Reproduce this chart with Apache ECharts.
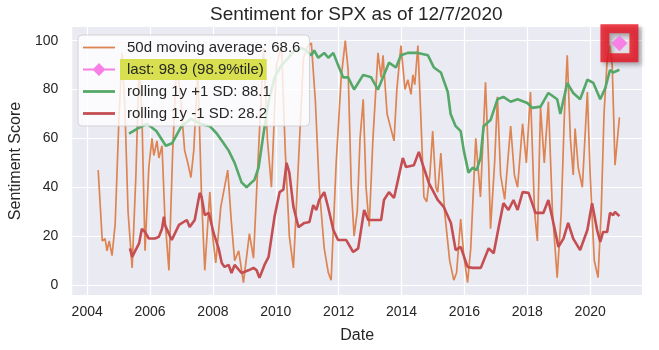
<!DOCTYPE html>
<html>
<head>
<meta charset="utf-8">
<script src="https://cdn.jsdelivr.net/npm/echarts@6/dist/echarts.min.js"></script>
<style>
  html, body { margin: 0; padding: 0; background: #fff; }
  #chart { width: 659px; height: 350px; }
</style>
</head>
<body>
<div id="chart"></div>
<script>
// 50d moving average (decimal years / score)
const maDates = [2004.35, 2004.48, 2004.57, 2004.63, 2004.70, 2004.79, 2004.89, 2005.01, 2005.11, 2005.20,
  2005.30, 2005.43, 2005.55, 2005.65, 2005.74, 2005.84, 2005.96, 2006.06, 2006.12, 2006.22,
  2006.28, 2006.38, 2006.47, 2006.60, 2006.72, 2006.85, 2006.98, 2007.10, 2007.20, 2007.30,
  2007.39, 2007.52, 2007.64, 2007.74, 2007.90, 2007.99, 2008.09, 2008.25, 2008.47, 2008.59,
  2008.69, 2008.82, 2008.97, 2009.16, 2009.29, 2009.45, 2009.61, 2009.73, 2009.86, 2010.02,
  2010.18, 2010.30, 2010.43, 2010.56, 2010.72, 2010.88, 2011.03, 2011.13, 2011.26, 2011.38,
  2011.54, 2011.67, 2011.76, 2011.92, 2012.08, 2012.21, 2012.30, 2012.40, 2012.49, 2012.59,
  2012.68, 2012.78, 2012.87, 2012.97, 2013.09, 2013.25, 2013.35, 2013.41, 2013.54, 2013.76,
  2013.85, 2013.98, 2014.11, 2014.20, 2014.30, 2014.36, 2014.42, 2014.52, 2014.61, 2014.71,
  2014.80, 2014.90, 2014.99, 2015.09, 2015.15, 2015.25, 2015.37, 2015.53, 2015.66, 2015.75,
  2015.88, 2015.98, 2016.10, 2016.20, 2016.36, 2016.51, 2016.67, 2016.77, 2016.83, 2016.96,
  2017.05, 2017.15, 2017.28, 2017.47, 2017.59, 2017.69, 2017.85, 2017.97, 2018.10, 2018.23,
  2018.32, 2018.42, 2018.54, 2018.67, 2018.80, 2018.95, 2019.08, 2019.18, 2019.27, 2019.37,
  2019.46, 2019.52, 2019.62, 2019.75, 2019.91, 2020.00, 2020.13, 2020.25, 2020.35, 2020.44,
  2020.54, 2020.63, 2020.70, 2020.79, 2020.93];
const maValues = [47, 18, 19, 14, 18, 12, 25, 68, 95, 72,
  30, 7, 45, 90, 70, 14, 48, 60, 53, 59,
  52, 57, 28, 6, 55, 92, 75, 55, 50, 44,
  55, 88, 35, 6, 38, 20, 9, 32, 47, 25,
  10, 14, 1, 21, 11, 55, 97, 60, 40, 90,
  98, 55, 20, 7, 50, 93, 98, 99, 75, 40,
  15, 5, 2, 50, 85, 100, 88, 40, 20, 30,
  60, 76, 40, 24, 60, 95, 85, 94, 70, 59,
  80, 98, 80, 84, 78, 86, 82, 98, 70, 36,
  34, 45, 63, 40, 38, 54, 30, 10, 2, 5,
  27, 12, 1, 15, 60, 36, 83, 50, 23, 50,
  77, 45, 35, 65, 45, 40, 66, 50, 79, 30,
  18, 73, 50, 75, 30, 3, 30, 70, 94, 60,
  45, 64, 48, 40, 79, 45, 10, 3, 30, 70,
  92, 98, 90, 49, 68.6];

// rolling 1y +1 SD
const upperDates = [2005.33, 2005.60, 2005.90, 2006.20, 2006.50, 2006.70, 2007.00, 2007.30, 2007.60, 2007.90,
  2008.12, 2008.34, 2008.50,
  2008.69, 2008.91, 2009.07, 2009.23, 2009.32, 2009.45, 2009.61, 2009.77, 2009.96, 2010.18,
  2010.40, 2010.59, 2010.81, 2010.97, 2011.13, 2011.22, 2011.35, 2011.54, 2011.67, 2011.83,
  2011.98, 2012.14, 2012.30, 2012.49, 2012.78, 2013.03, 2013.25, 2013.44, 2013.60, 2013.82,
  2013.98, 2014.20, 2014.52, 2014.84, 2015.03, 2015.25, 2015.47, 2015.56, 2015.72, 2015.88,
  2015.98, 2016.13, 2016.26, 2016.39, 2016.51, 2016.61, 2016.83, 2017.05, 2017.24, 2017.47,
  2017.69, 2018.00, 2018.16, 2018.42, 2018.67, 2018.95, 2019.05, 2019.27, 2019.46, 2019.68,
  2019.91, 2020.10, 2020.32, 2020.48, 2020.63, 2020.73, 2020.93];
const upperValues = [62, 64, 66, 63, 57, 58, 65, 68, 66, 65,
  62, 58, 55,
  50, 42, 40, 42, 43, 48, 62, 75, 85, 90,
  93, 96, 97, 96, 94, 96, 93, 95, 93, 95,
  90, 85, 85, 80, 86, 85, 80, 86, 91, 89,
  94, 95, 95, 94, 89, 87, 79, 70, 65, 63,
  55, 46, 48, 47, 52, 65, 67.5, 76, 77, 75,
  76, 74.5, 72.5, 73, 78.6, 76, 70, 82.7, 78.6, 76,
  84, 82.7, 76, 80.6, 88, 87, 88.1];

// rolling 1y -1 SD
const lowerDates = [2005.36, 2005.43, 2005.65, 2005.74, 2005.84, 2005.96, 2006.15, 2006.28, 2006.38, 2006.44,
  2006.47, 2006.69, 2006.92, 2007.17, 2007.26, 2007.42, 2007.58, 2007.64, 2007.74, 2007.87,
  2008.02, 2008.18, 2008.28, 2008.37, 2008.50, 2008.59, 2008.69, 2008.91, 2009.13, 2009.29,
  2009.39, 2009.48, 2009.64, 2009.77, 2009.96, 2010.12, 2010.24, 2010.34, 2010.43, 2010.56,
  2010.72, 2010.91, 2011.07, 2011.19, 2011.29, 2011.38, 2011.54, 2011.67, 2011.83, 2011.98,
  2012.24, 2012.46, 2012.62, 2012.81, 2012.94, 2013.35, 2013.44, 2013.60, 2013.76, 2014.04,
  2014.14, 2014.39, 2014.55, 2014.68, 2014.87, 2015.15, 2015.34, 2015.57, 2015.72, 2015.88,
  2016.10, 2016.26, 2016.52, 2016.77, 2016.93, 2017.09, 2017.24, 2017.40, 2017.56, 2017.69,
  2017.85, 2018.04, 2018.26, 2018.51, 2018.67, 2018.83, 2018.99, 2019.15, 2019.30, 2019.46,
  2019.68, 2019.91, 2020.06, 2020.22, 2020.32, 2020.41, 2020.54, 2020.63, 2020.73, 2020.79,
  2020.93];
const lowerValues = [15, 11.5, 17, 23, 21.7, 19, 19, 19.7, 23, 28,
  24.6, 18.4, 24.6, 26.6, 23.7, 26.6, 37.7, 36, 28.6, 29.5,
  21.3, 15, 9, 7.4, 8.2, 4.9, 8.2, 4.9, 6, 7,
  6, 2.9, 8.2, 11.5, 28, 38, 39, 50, 46, 32,
  23.7, 25.4, 25.8, 32.7, 30.7, 34.8, 38, 31.5, 22.5, 18.4,
  18.4, 13.5, 15, 30.7, 26.6, 26.6, 34.8, 38, 35.6, 52,
  48.3, 49, 54.5, 49, 41.7, 34.8, 32, 25.4, 14.3, 15.6,
  7.4, 7, 7, 15, 13, 23.7, 33.5, 30.7, 34.8, 30.7,
  38, 37.7, 29.5, 29.5, 34.8, 25.4, 15.6, 19, 25.4, 19,
  14.3, 22.5, 33.5, 22.5, 17.6, 21.7, 21.7, 29.5, 28.6, 29.9,
  28.2];

const lastDate = 2020.93;
const lastValue = 98.9;
const xTicks = [2004, 2006, 2008, 2010, 2012, 2014, 2016, 2018, 2020];
const yTicks = [0, 20, 40, 60, 80, 100];

const names = {
  ma: '50d moving average: 68.6',
  last: 'last: 98.9 (98.9%tile)',
  up: 'rolling 1y +1 SD: 88.1',
  lo: 'rolling 1y -1 SD: 28.2'
};

const zip = (xs, ys) => xs.map((x, i) => [x, ys[i]]);
const font = 'Liberation Sans, Arial, sans-serif';
const ink = '#262626';

// legend glyphs (aspect kept, so a thin bar stays thin)
const thinLine = 'path://M0,0 H32 V1.8 H0 Z';
const thickLine = 'path://M0,0 H32 V2.8 H0 Z';
const lineDiamond = 'path://M0,6 H32 V8 H0 Z M16,0.5 L22.5,7 L16,13.5 L9.5,7 Z';

const chart = echarts.init(document.getElementById('chart'));

chart.setOption({
  animation: false,
  backgroundColor: '#ffffff',
  textStyle: { fontFamily: font },
  title: {
    text: 'Sentiment for SPX as of 12/7/2020',
    left: 205,
    top: 0,
    textStyle: { fontSize: 19, fontWeight: 'normal', color: ink, fontFamily: font }
  },
  grid: {
    left: 70, right: 17, top: 27, bottom: 55,
    show: true, backgroundColor: '#eaeaf2', borderWidth: 0
  },
  legend: {
    orient: 'vertical',
    left: 78,
    top: 35,
    data: [
      { name: names.ma, icon: thinLine },
      { name: names.last, icon: lineDiamond },
      { name: names.up, icon: thickLine },
      { name: names.lo, icon: thickLine }
    ],
    symbolKeepAspect: true,
    itemWidth: 32,
    itemHeight: 14,
    itemGap: 1,
    padding: [2, 6, 2, 5],
    backgroundColor: 'rgba(255,255,255,0.8)',
    borderColor: 'rgba(204,204,204,0.8)',
    borderWidth: 1,
    borderRadius: 4,
    formatter: name => name === names.last ? '{hl|' + name + '}' : '{n|' + name + '}',
    textStyle: {
      fontSize: 15, color: ink, fontFamily: font,
      rich: {
        n: { fontSize: 15, lineHeight: 15, padding: [3, 3, 3, 7] },
        hl: { fontSize: 15, lineHeight: 15, padding: [3, 3, 3, 7], backgroundColor: '#d8e04f' }
      }
    }
  },
  xAxis: {
    type: 'value',
    min: 2003.525,
    max: 2021.648,
    name: 'Date',
    nameLocation: 'middle',
    nameGap: 33,
    nameTextStyle: { fontSize: 16, color: ink, fontFamily: font },
    axisLine: { show: false },
    axisTick: { show: false, customValues: xTicks },
    axisLabel: {
      customValues: xTicks, fontSize: 14, color: ink, margin: 10,
      formatter: v => String(Math.round(v))
    },
    splitLine: { show: true, lineStyle: { color: '#ffffff', width: 1.2 } }
  },
  yAxis: {
    type: 'value',
    min: -4.1,
    max: 105.6,
    name: 'Sentiment Score',
    nameLocation: 'middle',
    nameGap: 42,
    nameTextStyle: { fontSize: 16, color: ink, fontFamily: font },
    axisLine: { show: false },
    axisTick: { show: false, customValues: yTicks },
    axisLabel: { customValues: yTicks, fontSize: 14, color: ink, margin: 14 },
    splitLine: { show: true, lineStyle: { color: '#ffffff', width: 1.2 } }
  },
  series: [
    {
      name: names.ma, type: 'line', data: zip(maDates, maValues),
      showSymbol: false, symbol: 'none', color: '#dd8452',
      lineStyle: { width: 1.7, color: '#dd8452' }
    },
    {
      name: 'box', type: 'scatter', data: [[lastDate, lastValue]],
      symbol: 'rect', symbolSize: 29, z: 3,
      itemStyle: {
        color: 'rgba(255,255,255,0.25)', borderColor: '#e8101e', borderWidth: 9,
        shadowBlur: 4, shadowOffsetX: 3, shadowOffsetY: 3, shadowColor: 'rgba(0,0,0,0.35)'
      }
    },
    {
      name: names.last, type: 'line', data: [[lastDate, lastValue]],
      symbol: 'diamond', symbolSize: 16, showSymbol: true, z: 4,
      color: '#f77fe5',
      itemStyle: { color: '#f77fe5' },
      lineStyle: { width: 2, color: '#f77fe5' }
    },
    {
      name: names.up, type: 'line', data: zip(upperDates, upperValues),
      showSymbol: false, symbol: 'none', color: '#55a868',
      lineStyle: { width: 2.6, color: '#55a868' }
    },
    {
      name: names.lo, type: 'line', data: zip(lowerDates, lowerValues),
      showSymbol: false, symbol: 'none', color: '#c44e52',
      lineStyle: { width: 2.6, color: '#c44e52' }
    }
  ]
});
</script>
</body>
</html>
